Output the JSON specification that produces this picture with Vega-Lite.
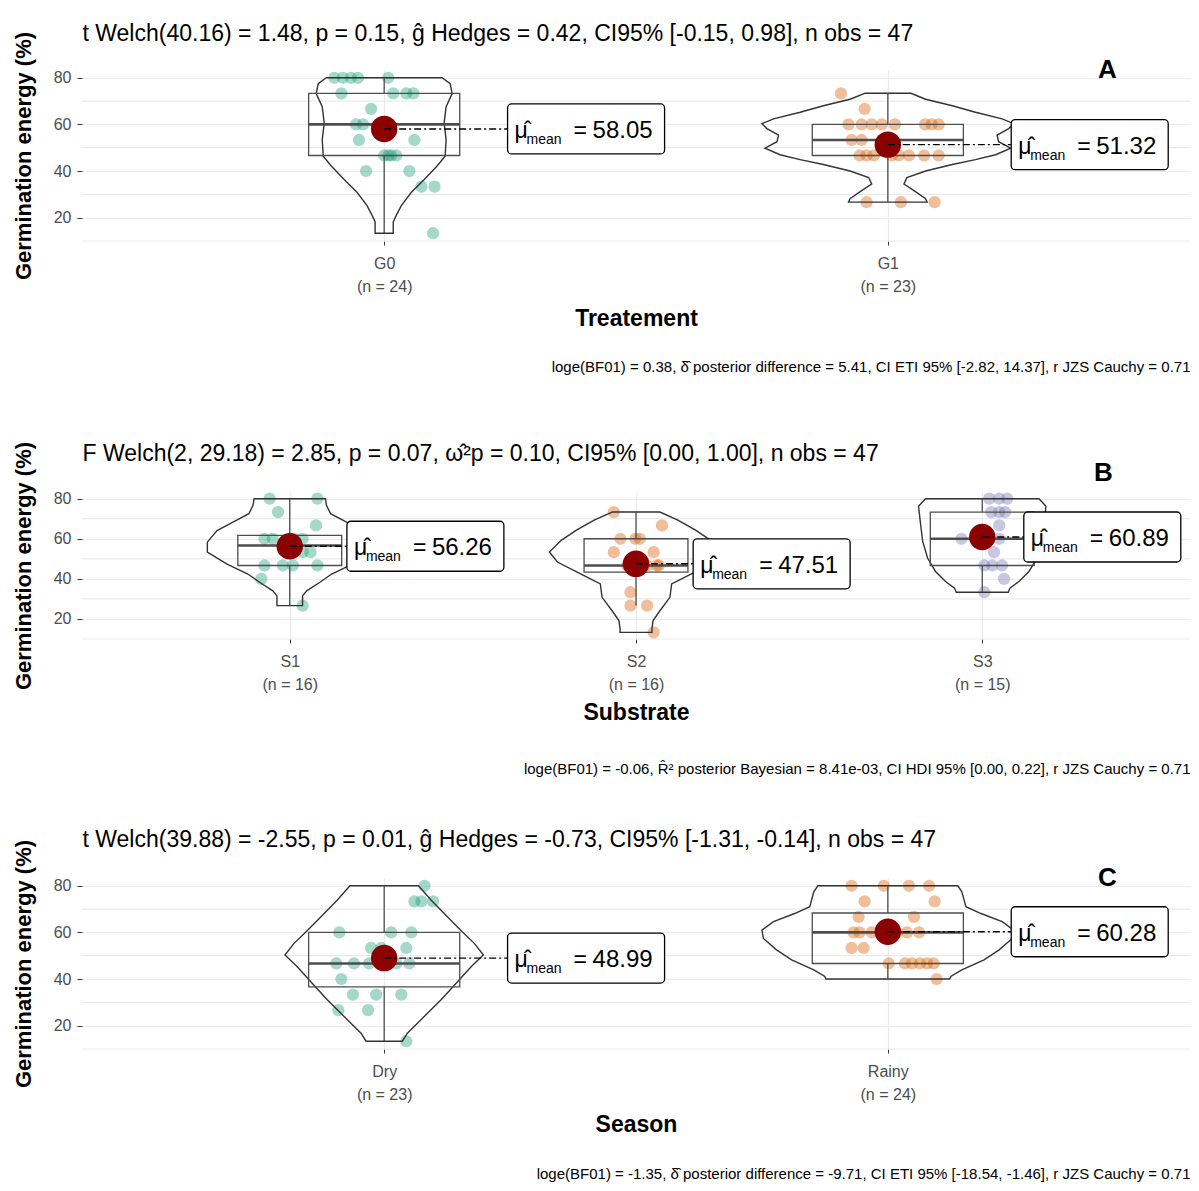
{
  "$schema": "https://vega.github.io/schema/vega-lite/v6.json",
  "background": "white",
  "padding": {"left": 12, "top": 22, "right": 2, "bottom": 2},
  "spacing": 67,
  "config": {
    "font": "Liberation Sans",
    "view": {"stroke": null},
    "axis": {"grid": false, "domain": false, "labelFont": "Liberation Sans", "titleFont": "Liberation Sans"},
    "text": {"font": "Liberation Sans"}
  },
  "datasets": {
    "minor": [{"g": 10}, {"g": 30}, {"g": 50}, {"g": 70}],
    "pts": [
      {"panel":"A","grp":"G0","xj":0.901,"v":80},{"panel":"A","grp":"G0","xj":0.918,"v":80},{"panel":"A","grp":"G0","xj":0.934,"v":80},{"panel":"A","grp":"G0","xj":0.948,"v":80},{"panel":"A","grp":"G0","xj":1.008,"v":80},
      {"panel":"A","grp":"G0","xj":0.915,"v":73.33},{"panel":"A","grp":"G0","xj":1.018,"v":73.33},{"panel":"A","grp":"G0","xj":1.044,"v":73.33},{"panel":"A","grp":"G0","xj":1.058,"v":73.33},
      {"panel":"A","grp":"G0","xj":0.974,"v":66.67},
      {"panel":"A","grp":"G0","xj":0.944,"v":60},{"panel":"A","grp":"G0","xj":0.958,"v":60},{"panel":"A","grp":"G0","xj":0.994,"v":60},
      {"panel":"A","grp":"G0","xj":0.950,"v":53.33},{"panel":"A","grp":"G0","xj":1.060,"v":53.33},
      {"panel":"A","grp":"G0","xj":1.000,"v":46.67},{"panel":"A","grp":"G0","xj":1.014,"v":46.67},{"panel":"A","grp":"G0","xj":1.024,"v":46.67},{"panel":"A","grp":"G0","xj":1.008,"v":46.67},
      {"panel":"A","grp":"G0","xj":0.964,"v":40},{"panel":"A","grp":"G0","xj":1.050,"v":40},
      {"panel":"A","grp":"G0","xj":1.074,"v":33.33},{"panel":"A","grp":"G0","xj":1.100,"v":33.33},
      {"panel":"A","grp":"G0","xj":1.097,"v":13.33},
      {"panel":"A","grp":"G1","xj":1.907,"v":73.33},
      {"panel":"A","grp":"G1","xj":1.954,"v":66.67},
      {"panel":"A","grp":"G1","xj":1.922,"v":60},{"panel":"A","grp":"G1","xj":1.948,"v":60},{"panel":"A","grp":"G1","xj":1.968,"v":60},{"panel":"A","grp":"G1","xj":1.988,"v":60},{"panel":"A","grp":"G1","xj":2.014,"v":60},{"panel":"A","grp":"G1","xj":2.074,"v":60},{"panel":"A","grp":"G1","xj":2.087,"v":60},{"panel":"A","grp":"G1","xj":2.101,"v":60},
      {"panel":"A","grp":"G1","xj":1.928,"v":53.33},{"panel":"A","grp":"G1","xj":1.948,"v":53.33},
      {"panel":"A","grp":"G1","xj":1.944,"v":46.67},{"panel":"A","grp":"G1","xj":1.958,"v":46.67},{"panel":"A","grp":"G1","xj":2.022,"v":46.67},{"panel":"A","grp":"G1","xj":2.042,"v":46.67},{"panel":"A","grp":"G1","xj":2.072,"v":46.67},{"panel":"A","grp":"G1","xj":2.101,"v":46.67},{"panel":"A","grp":"G1","xj":1.972,"v":46.67},{"panel":"A","grp":"G1","xj":2.008,"v":46.67},
      {"panel":"A","grp":"G1","xj":1.958,"v":26.67},{"panel":"A","grp":"G1","xj":2.026,"v":26.67},{"panel":"A","grp":"G1","xj":2.093,"v":26.67},

      {"panel":"B","grp":"S1","xj":0.942,"v":80},{"panel":"B","grp":"S1","xj":1.080,"v":80},
      {"panel":"B","grp":"S1","xj":0.966,"v":73.33},
      {"panel":"B","grp":"S1","xj":1.076,"v":66.67},
      {"panel":"B","grp":"S1","xj":0.927,"v":60},{"panel":"B","grp":"S1","xj":0.951,"v":60},{"panel":"B","grp":"S1","xj":1.014,"v":60},{"panel":"B","grp":"S1","xj":1.037,"v":60},
      {"panel":"B","grp":"S1","xj":1.037,"v":53.33},{"panel":"B","grp":"S1","xj":1.060,"v":53.33},
      {"panel":"B","grp":"S1","xj":0.927,"v":46.67},{"panel":"B","grp":"S1","xj":0.980,"v":46.67},{"panel":"B","grp":"S1","xj":1.009,"v":46.67},{"panel":"B","grp":"S1","xj":1.080,"v":46.67},
      {"panel":"B","grp":"S1","xj":0.918,"v":40},
      {"panel":"B","grp":"S1","xj":1.037,"v":26.67},
      {"panel":"B","grp":"S2","xj":1.936,"v":73.33},
      {"panel":"B","grp":"S2","xj":2.075,"v":66.67},
      {"panel":"B","grp":"S2","xj":1.955,"v":60},{"panel":"B","grp":"S2","xj":1.998,"v":60},{"panel":"B","grp":"S2","xj":2.011,"v":60},
      {"panel":"B","grp":"S2","xj":1.936,"v":53.33},{"panel":"B","grp":"S2","xj":2.051,"v":53.33},
      {"panel":"B","grp":"S2","xj":2.060,"v":46.67},{"panel":"B","grp":"S2","xj":2.066,"v":46.67},{"panel":"B","grp":"S2","xj":1.974,"v":46.67},{"panel":"B","grp":"S2","xj":2.017,"v":46.67},{"panel":"B","grp":"S2","xj":2.032,"v":46.67},
      {"panel":"B","grp":"S2","xj":1.984,"v":33.33},
      {"panel":"B","grp":"S2","xj":1.984,"v":26.67},{"panel":"B","grp":"S2","xj":2.032,"v":26.67},
      {"panel":"B","grp":"S2","xj":2.051,"v":13.33},
      {"panel":"B","grp":"S3","xj":3.020,"v":80},{"panel":"B","grp":"S3","xj":3.049,"v":80},{"panel":"B","grp":"S3","xj":3.072,"v":80},
      {"panel":"B","grp":"S3","xj":3.026,"v":73.33},{"panel":"B","grp":"S3","xj":3.066,"v":73.33},{"panel":"B","grp":"S3","xj":3.049,"v":73.33},
      {"panel":"B","grp":"S3","xj":3.049,"v":66.67},
      {"panel":"B","grp":"S3","xj":2.940,"v":60},{"panel":"B","grp":"S3","xj":3.049,"v":60},
      {"panel":"B","grp":"S3","xj":3.034,"v":53.33},
      {"panel":"B","grp":"S3","xj":3.006,"v":46.67},{"panel":"B","grp":"S3","xj":3.029,"v":46.67},{"panel":"B","grp":"S3","xj":3.057,"v":46.67},
      {"panel":"B","grp":"S3","xj":3.063,"v":40},
      {"panel":"B","grp":"S3","xj":3.006,"v":33.33},

      {"panel":"C","grp":"Dry","xj":1.080,"v":80},
      {"panel":"C","grp":"Dry","xj":1.060,"v":73.33},{"panel":"C","grp":"Dry","xj":1.074,"v":73.33},{"panel":"C","grp":"Dry","xj":1.097,"v":73.33},
      {"panel":"C","grp":"Dry","xj":0.911,"v":60},{"panel":"C","grp":"Dry","xj":1.014,"v":60},{"panel":"C","grp":"Dry","xj":1.054,"v":60},
      {"panel":"C","grp":"Dry","xj":0.974,"v":53.33},{"panel":"C","grp":"Dry","xj":1.044,"v":53.33},{"panel":"C","grp":"Dry","xj":0.994,"v":53.33},
      {"panel":"C","grp":"Dry","xj":0.905,"v":46.67},{"panel":"C","grp":"Dry","xj":0.940,"v":46.67},{"panel":"C","grp":"Dry","xj":0.970,"v":46.67},{"panel":"C","grp":"Dry","xj":1.050,"v":46.67},{"panel":"C","grp":"Dry","xj":1.004,"v":46.67},{"panel":"C","grp":"Dry","xj":1.024,"v":46.67},
      {"panel":"C","grp":"Dry","xj":0.915,"v":40},
      {"panel":"C","grp":"Dry","xj":0.938,"v":33.33},{"panel":"C","grp":"Dry","xj":1.034,"v":33.33},{"panel":"C","grp":"Dry","xj":0.984,"v":33.33},
      {"panel":"C","grp":"Dry","xj":0.909,"v":26.67},{"panel":"C","grp":"Dry","xj":0.968,"v":26.67},
      {"panel":"C","grp":"Dry","xj":1.044,"v":13.33},
      {"panel":"C","grp":"Rainy","xj":1.928,"v":80},{"panel":"C","grp":"Rainy","xj":1.992,"v":80},{"panel":"C","grp":"Rainy","xj":2.042,"v":80},{"panel":"C","grp":"Rainy","xj":2.082,"v":80},
      {"panel":"C","grp":"Rainy","xj":1.954,"v":73.33},{"panel":"C","grp":"Rainy","xj":2.093,"v":73.33},
      {"panel":"C","grp":"Rainy","xj":1.942,"v":66.67},{"panel":"C","grp":"Rainy","xj":2.052,"v":66.67},
      {"panel":"C","grp":"Rainy","xj":1.932,"v":60},{"panel":"C","grp":"Rainy","xj":1.944,"v":60},{"panel":"C","grp":"Rainy","xj":2.062,"v":60},{"panel":"C","grp":"Rainy","xj":1.968,"v":60},{"panel":"C","grp":"Rainy","xj":1.988,"v":60},{"panel":"C","grp":"Rainy","xj":2.018,"v":60},{"panel":"C","grp":"Rainy","xj":2.038,"v":60},
      {"panel":"C","grp":"Rainy","xj":1.928,"v":53.33},{"panel":"C","grp":"Rainy","xj":1.952,"v":53.33},
      {"panel":"C","grp":"Rainy","xj":2.002,"v":46.67},{"panel":"C","grp":"Rainy","xj":2.034,"v":46.67},{"panel":"C","grp":"Rainy","xj":2.048,"v":46.67},{"panel":"C","grp":"Rainy","xj":2.064,"v":46.67},{"panel":"C","grp":"Rainy","xj":2.078,"v":46.67},{"panel":"C","grp":"Rainy","xj":2.091,"v":46.67},
      {"panel":"C","grp":"Rainy","xj":2.097,"v":40}
    ],
    "box": [
      {"panel":"A","grp":"G0","pos":1,"lo":13.33,"q1":46.67,"med":60,"q3":73.33,"hi":80,"mean":58.05},
      {"panel":"A","grp":"G1","pos":2,"lo":26.67,"q1":46.67,"med":53.33,"q3":60,"hi":73.33,"mean":51.32},
      {"panel":"B","grp":"S1","pos":1,"lo":26.67,"q1":46.67,"med":56.67,"q3":61.67,"hi":80,"mean":56.26},
      {"panel":"B","grp":"S2","pos":2,"lo":26.67,"q1":43.33,"med":46.67,"q3":60,"hi":73.33,"mean":47.51},
      {"panel":"B","grp":"S3","pos":3,"lo":33.33,"q1":46.67,"med":60,"q3":73.33,"hi":80,"mean":60.89},
      {"panel":"C","grp":"Dry","pos":1,"lo":13.33,"q1":36.67,"med":46.67,"q3":60,"hi":80,"mean":48.99},
      {"panel":"C","grp":"Rainy","pos":2,"lo":40,"q1":46.67,"med":60,"q3":68.33,"hi":80,"mean":60.28}
    ],
    "vio": [
      {"panel":"A","grp":"G0","pos":1,"y":80,"w":0.115},{"panel":"A","grp":"G0","pos":1,"y":77.5,"w":0.131},{"panel":"A","grp":"G0","pos":1,"y":73.2,"w":0.135},{"panel":"A","grp":"G0","pos":1,"y":67.6,"w":0.123},{"panel":"A","grp":"G0","pos":1,"y":60.5,"w":0.119},{"panel":"A","grp":"G0","pos":1,"y":53.5,"w":0.123},{"panel":"A","grp":"G0","pos":1,"y":46.4,"w":0.121},{"panel":"A","grp":"G0","pos":1,"y":42.2,"w":0.105},{"panel":"A","grp":"G0","pos":1,"y":36.5,"w":0.080},{"panel":"A","grp":"G0","pos":1,"y":30.9,"w":0.054},{"panel":"A","grp":"G0","pos":1,"y":25.2,"w":0.034},{"panel":"A","grp":"G0","pos":1,"y":21.0,"w":0.024},{"panel":"A","grp":"G0","pos":1,"y":18.2,"w":0.018},{"panel":"A","grp":"G0","pos":1,"y":13.33,"w":0.018},
      {"panel":"A","grp":"G1","pos":2,"y":73.33,"w":0.046},{"panel":"A","grp":"G1","pos":2,"y":70.8,"w":0.075},{"panel":"A","grp":"G1","pos":2,"y":68.0,"w":0.128},{"panel":"A","grp":"G1","pos":2,"y":65.2,"w":0.174},{"panel":"A","grp":"G1","pos":2,"y":62.4,"w":0.227},{"panel":"A","grp":"G1","pos":2,"y":60.3,"w":0.25},{"panel":"A","grp":"G1","pos":2,"y":58.2,"w":0.24},{"panel":"A","grp":"G1","pos":2,"y":55.4,"w":0.217},{"panel":"A","grp":"G1","pos":2,"y":52.6,"w":0.22},{"panel":"A","grp":"G1","pos":2,"y":49.8,"w":0.244},{"panel":"A","grp":"G1","pos":2,"y":47.0,"w":0.214},{"panel":"A","grp":"G1","pos":2,"y":44.9,"w":0.174},{"panel":"A","grp":"G1","pos":2,"y":42.8,"w":0.128},{"panel":"A","grp":"G1","pos":2,"y":40.0,"w":0.075},{"panel":"A","grp":"G1","pos":2,"y":37.2,"w":0.038},{"panel":"A","grp":"G1","pos":2,"y":34.4,"w":0.032},{"panel":"A","grp":"G1","pos":2,"y":31.6,"w":0.052},{"panel":"A","grp":"G1","pos":2,"y":28.1,"w":0.075},{"panel":"A","grp":"G1","pos":2,"y":26.67,"w":0.078},
      {"panel":"B","grp":"S1","pos":1,"y":80,"w":0.103},{"panel":"B","grp":"S1","pos":1,"y":76.7,"w":0.106},{"panel":"B","grp":"S1","pos":1,"y":72.5,"w":0.118},{"panel":"B","grp":"S1","pos":1,"y":68.3,"w":0.164},{"panel":"B","grp":"S1","pos":1,"y":64.1,"w":0.21},{"panel":"B","grp":"S1","pos":1,"y":58.3,"w":0.238},{"panel":"B","grp":"S1","pos":1,"y":53.3,"w":0.238},{"panel":"B","grp":"S1","pos":1,"y":47.4,"w":0.181},{"panel":"B","grp":"S1","pos":1,"y":42.4,"w":0.121},{"panel":"B","grp":"S1","pos":1,"y":38.2,"w":0.086},{"panel":"B","grp":"S1","pos":1,"y":34.0,"w":0.049},{"panel":"B","grp":"S1","pos":1,"y":31.5,"w":0.037},{"panel":"B","grp":"S1","pos":1,"y":26.67,"w":0.037},
      {"panel":"B","grp":"S2","pos":2,"y":73.33,"w":0.069},{"panel":"B","grp":"S2","pos":2,"y":69.3,"w":0.121},{"panel":"B","grp":"S2","pos":2,"y":64.3,"w":0.172},{"panel":"B","grp":"S2","pos":2,"y":59.2,"w":0.216},{"panel":"B","grp":"S2","pos":2,"y":53.4,"w":0.25},{"panel":"B","grp":"S2","pos":2,"y":48.4,"w":0.227},{"panel":"B","grp":"S2","pos":2,"y":43.4,"w":0.17},{"panel":"B","grp":"S2","pos":2,"y":37.5,"w":0.103},{"panel":"B","grp":"S2","pos":2,"y":30.8,"w":0.098},{"panel":"B","grp":"S2","pos":2,"y":24.1,"w":0.069},{"panel":"B","grp":"S2","pos":2,"y":19.1,"w":0.049},{"panel":"B","grp":"S2","pos":2,"y":14.9,"w":0.046},{"panel":"B","grp":"S2","pos":2,"y":13.33,"w":0.046},
      {"panel":"B","grp":"S3","pos":3,"y":80,"w":0.164},{"panel":"B","grp":"S3","pos":3,"y":76.2,"w":0.184},{"panel":"B","grp":"S3","pos":3,"y":67.1,"w":0.178},{"panel":"B","grp":"S3","pos":3,"y":58.7,"w":0.172},{"panel":"B","grp":"S3","pos":3,"y":50.4,"w":0.158},{"panel":"B","grp":"S3","pos":3,"y":43.7,"w":0.135},{"panel":"B","grp":"S3","pos":3,"y":38.7,"w":0.106},{"panel":"B","grp":"S3","pos":3,"y":35.4,"w":0.08},{"panel":"B","grp":"S3","pos":3,"y":33.33,"w":0.075},
      {"panel":"C","grp":"Dry","pos":1,"y":80,"w":0.068},{"panel":"C","grp":"Dry","pos":1,"y":73.9,"w":0.093},{"panel":"C","grp":"Dry","pos":1,"y":66.8,"w":0.125},{"panel":"C","grp":"Dry","pos":1,"y":60.3,"w":0.155},{"panel":"C","grp":"Dry","pos":1,"y":55.3,"w":0.179},{"panel":"C","grp":"Dry","pos":1,"y":50.3,"w":0.197},{"panel":"C","grp":"Dry","pos":1,"y":45.4,"w":0.173},{"panel":"C","grp":"Dry","pos":1,"y":38.2,"w":0.143},{"panel":"C","grp":"Dry","pos":1,"y":31.1,"w":0.113},{"panel":"C","grp":"Dry","pos":1,"y":24.0,"w":0.080},{"panel":"C","grp":"Dry","pos":1,"y":16.8,"w":0.046},{"panel":"C","grp":"Dry","pos":1,"y":13.33,"w":0.036},
      {"panel":"C","grp":"Rainy","pos":2,"y":80,"w":0.139},{"panel":"C","grp":"Rainy","pos":2,"y":77.4,"w":0.147},{"panel":"C","grp":"Rainy","pos":2,"y":71.0,"w":0.155},{"panel":"C","grp":"Rainy","pos":2,"y":68.1,"w":0.185},{"panel":"C","grp":"Rainy","pos":2,"y":64.6,"w":0.227},{"panel":"C","grp":"Rainy","pos":2,"y":61.0,"w":0.25},{"panel":"C","grp":"Rainy","pos":2,"y":57.4,"w":0.247},{"panel":"C","grp":"Rainy","pos":2,"y":52.5,"w":0.221},{"panel":"C","grp":"Rainy","pos":2,"y":48.2,"w":0.191},{"panel":"C","grp":"Rainy","pos":2,"y":43.9,"w":0.147},{"panel":"C","grp":"Rainy","pos":2,"y":41.1,"w":0.125},{"panel":"C","grp":"Rainy","pos":2,"y":40,"w":0.123}
    ]
  },
  "vconcat": [
    {
      "width": 1108, "height": 171,
      "resolve": {"axis": {"x": "independent"}},
      "layer": [
        {
          "data": {"name": "minor"},
          "mark": {"type": "rule", "stroke": "#EBEBEB", "strokeWidth": 1.2},
          "encoding": {
            "y": {"field": "g", "type": "quantitative", "scale": {"domain": [10, 83.33], "nice": false, "zero": false},
                  "axis": {"orient": "left", "values": [20, 40, 60, 80], "grid": true, "gridColor": "#EBEBEB", "gridWidth": 1.2, "ticks": true, "tickSize": 5, "tickColor": "#333333", "domain": false, "labelFontSize": 16, "labelColor": "#4D4D4D", "labelPadding": 6, "title": "Germination energy (%)", "titleFontSize": 22, "titleFontWeight": "bold", "titleColor": "black", "titlePadding": 18}}
          }
        },
        {
          "data": {"name": "pts"},
          "transform": [{"filter": "datum.panel == 'A'"}],
          "mark": {"type": "circle", "size": 150, "opacity": 0.4},
          "encoding": {
            "x": {"field": "xj", "type": "quantitative", "scale": {"domain": [0.4, 2.6], "nice": false, "zero": false},
                  "axis": {"orient": "bottom", "offset": 118, "labels": false, "ticks": false, "domain": false, "grid": false, "title": "loge(BF01) = 0.38, δ̂ posterior difference = 5.41, CI ETI 95% [-2.82, 14.37], r JZS Cauchy = 0.71", "titleAnchor": "end", "titleFontSize": 15, "titleFontWeight": "normal", "titleColor": "black", "titlePadding": 0, "titleLimit": 3000}},
            "y": {"field": "v", "type": "quantitative", "scale": {"domain": [10, 83.33], "nice": false, "zero": false}},
            "color": {"field": "grp", "type": "nominal", "scale": {"domain": ["G0","G1","S1","S2","S3","Dry","Rainy"], "range": ["#1B9E77","#D95F02","#1B9E77","#D95F02","#7570B3","#1B9E77","#D95F02"]}, "legend": null}
          }
        },
        {
          "data": {"name": "vio"},
          "transform": [{"filter": "datum.panel == 'A'"}, {"calculate": "datum.pos - datum.w", "as": "xl"}, {"calculate": "datum.pos + datum.w", "as": "xr"}],
          "mark": {"type": "area", "orient": "horizontal", "fill": "white", "fillOpacity": 0, "stroke": "#333333", "strokeWidth": 1.4},
          "encoding": {
            "y": {"field": "y", "type": "quantitative", "scale": {"domain": [10, 83.33], "nice": false, "zero": false}},
            "x": {"field": "xl", "type": "quantitative", "stack": null, "scale": {"domain": [0.4, 2.6], "nice": false, "zero": false},
                  "axis": {"orient": "bottom", "values": [1, 2], "labelExpr": "datum.value == 1 ? ['G0', '(n = 24)'] : ['G1', '(n = 23)']", "grid": true, "gridColor": "#EBEBEB", "gridWidth": 1.2, "ticks": true, "tickSize": 4, "tickColor": "#333333", "domain": false, "labelFontSize": 16, "labelColor": "#4D4D4D", "labelLineHeight": 23, "labelPadding": 10, "labelFlush": false, "labelOverlap": false, "title": "Treatement", "titleFontSize": 23, "titleFontWeight": "bold", "titleColor": "black", "titlePadding": 13}},
            "x2": {"field": "xr"},
            "detail": {"field": "grp"}
          }
        },
        {
          "data": {"name": "box"},
          "transform": [{"filter": "datum.panel == 'A'"}, {"calculate": "datum.pos - 0.15", "as": "b1"}, {"calculate": "datum.pos + 0.15", "as": "b2"}],
          "mark": {"type": "rect", "fill": "white", "fillOpacity": 0, "stroke": "#4D4D4D", "strokeWidth": 1.3},
          "encoding": {
            "x": {"field": "b1", "type": "quantitative", "scale": {"domain": [0.4, 2.6], "nice": false, "zero": false}, "axis": null},
            "x2": {"field": "b2"},
            "y": {"field": "q1", "type": "quantitative", "scale": {"domain": [10, 83.33], "nice": false, "zero": false}},
            "y2": {"field": "q3"}
          }
        },
        {
          "data": {"name": "box"},
          "transform": [{"filter": "datum.panel == 'A'"}],
          "mark": {"type": "rule", "stroke": "#4D4D4D", "strokeWidth": 1.3},
          "encoding": {
            "x": {"field": "pos", "type": "quantitative", "scale": {"domain": [0.4, 2.6], "nice": false, "zero": false}, "axis": null},
            "y": {"field": "lo", "type": "quantitative", "scale": {"domain": [10, 83.33], "nice": false, "zero": false}},
            "y2": {"field": "q1"}
          }
        },
        {
          "data": {"name": "box"},
          "transform": [{"filter": "datum.panel == 'A'"}],
          "mark": {"type": "rule", "stroke": "#4D4D4D", "strokeWidth": 1.3},
          "encoding": {
            "x": {"field": "pos", "type": "quantitative", "scale": {"domain": [0.4, 2.6], "nice": false, "zero": false}, "axis": null},
            "y": {"field": "q3", "type": "quantitative", "scale": {"domain": [10, 83.33], "nice": false, "zero": false}},
            "y2": {"field": "hi"}
          }
        },
        {
          "data": {"name": "box"},
          "transform": [{"filter": "datum.panel == 'A'"}, {"calculate": "datum.pos - 0.15", "as": "b1"}, {"calculate": "datum.pos + 0.15", "as": "b2"}],
          "mark": {"type": "rule", "stroke": "#4D4D4D", "strokeWidth": 2.6},
          "encoding": {
            "x": {"field": "b1", "type": "quantitative", "scale": {"domain": [0.4, 2.6], "nice": false, "zero": false}, "axis": null},
            "x2": {"field": "b2"},
            "y": {"field": "med", "type": "quantitative", "scale": {"domain": [10, 83.33], "nice": false, "zero": false}}
          }
        },
        {
          "data": {"name": "box"},
          "transform": [{"filter": "datum.panel == 'A'"}],
          "mark": {"type": "circle", "size": 700, "color": "#8B0000", "opacity": 1},
          "encoding": {
            "x": {"field": "pos", "type": "quantitative", "scale": {"domain": [0.4, 2.6], "nice": false, "zero": false},
                  "axis": {"orient": "top", "labels": false, "ticks": false, "domain": false, "grid": false, "title": "t Welch(40.16) = 1.48, p = 0.15, ĝ Hedges = 0.42, CI95% [-0.15, 0.98], n obs = 47", "titleAnchor": "start", "titleFontSize": 23, "titleFontWeight": "normal", "titleColor": "black", "titlePadding": 25, "titleLimit": 3000}},
            "y": {"field": "mean", "type": "quantitative", "scale": {"domain": [10, 83.33], "nice": false, "zero": false}}
          }
        },
        {
          "data": {"name": "box"},
          "transform": [{"filter": "datum.panel == 'A'"}, {"calculate": "datum.pos + 0.245", "as": "lx"}],
          "mark": {"type": "rule", "stroke": "black", "strokeWidth": 1.4, "strokeDash": [7, 3, 2, 3]},
          "encoding": {
            "x": {"field": "pos", "type": "quantitative", "scale": {"domain": [0.4, 2.6], "nice": false, "zero": false}, "axis": null},
            "x2": {"field": "lx"},
            "y": {"field": "mean", "type": "quantitative", "scale": {"domain": [10, 83.33], "nice": false, "zero": false}}
          }
        },
        {
          "data": {"name": "box"},
          "transform": [{"filter": "datum.panel == 'A'"}, {"calculate": "datum.pos + 0.245", "as": "lx"}],
          "layer": [
            {"mark": {"type": "rect", "fill": "white", "stroke": "black", "strokeWidth": 1.3, "cornerRadius": 4, "x2Offset": 157, "yOffset": -25, "y2Offset": 25},
             "encoding": {"x2": {"field": "lx"}, "y2": {"field": "mean"}}},
            {"mark": {"type": "text", "align": "left", "baseline": "alphabetic", "dx": 7, "dy": 9, "fontSize": 23, "color": "black", "text": "μ̂"}},
            {"mark": {"type": "text", "align": "left", "baseline": "alphabetic", "dx": 19, "dy": 15, "fontSize": 14, "color": "black", "text": "mean"}},
            {"mark": {"type": "text", "align": "left", "baseline": "alphabetic", "dx": 66, "dy": 9, "fontSize": 23, "color": "black", "text": "="}},
            {"mark": {"type": "text", "align": "left", "baseline": "alphabetic", "dx": 85, "dy": 9, "fontSize": 24, "color": "black"},
             "encoding": {"text": {"field": "mean", "type": "quantitative", "format": ".2f"}}}
          ],
          "encoding": {
            "x": {"field": "lx", "type": "quantitative", "scale": {"domain": [0.4, 2.6], "nice": false, "zero": false}, "axis": null},
            "y": {"field": "mean", "type": "quantitative", "scale": {"domain": [10, 83.33], "nice": false, "zero": false}}
          }
        },
        {
          "data": {"values": [{"tag": "A"}]},
          "mark": {"type": "text", "fontSize": 26, "fontWeight": "bold", "color": "black", "baseline": "middle", "align": "center"},
          "encoding": {
            "x": {"datum": 2.436, "type": "quantitative", "scale": {"domain": [0.4, 2.6], "nice": false, "zero": false}, "axis": null},
            "y": {"datum": 83.33, "type": "quantitative", "scale": {"domain": [10, 83.33], "nice": false, "zero": false}},
            "text": {"field": "tag"}
          }
        }
      ]
    },
    {
      "spacing": 52,
      "vconcat": [
        {
          "width": 1108, "height": 147,
          "resolve": {"axis": {"x": "independent"}},
          "layer": [
            {
              "data": {"name": "minor"},
              "mark": {"type": "rule", "stroke": "#EBEBEB", "strokeWidth": 1.2},
              "encoding": {
                "y": {"field": "g", "type": "quantitative", "scale": {"domain": [10, 83.33], "nice": false, "zero": false},
                      "axis": {"orient": "left", "values": [20, 40, 60, 80], "grid": true, "gridColor": "#EBEBEB", "gridWidth": 1.2, "ticks": true, "tickSize": 5, "tickColor": "#333333", "domain": false, "labelFontSize": 16, "labelColor": "#4D4D4D", "labelPadding": 6, "title": "Germination energy (%)", "titleFontSize": 22, "titleFontWeight": "bold", "titleColor": "black", "titlePadding": 18}}
              }
            },
            {
              "data": {"name": "pts"},
              "transform": [{"filter": "datum.panel == 'B'"}],
              "mark": {"type": "circle", "size": 150, "opacity": 0.4},
              "encoding": {
                "x": {"field": "xj", "type": "quantitative", "scale": {"domain": [0.4, 3.6], "nice": false, "zero": false},
                      "axis": {"orient": "bottom", "offset": 122, "labels": false, "ticks": false, "domain": false, "grid": false, "title": "loge(BF01) = -0.06, R̂² posterior Bayesian = 8.41e-03, CI HDI 95% [0.00, 0.22], r JZS Cauchy = 0.71", "titleAnchor": "end", "titleFontSize": 15, "titleFontWeight": "normal", "titleColor": "black", "titlePadding": 0, "titleLimit": 3000}},
                "y": {"field": "v", "type": "quantitative", "scale": {"domain": [10, 83.33], "nice": false, "zero": false}},
                "color": {"field": "grp", "type": "nominal", "scale": {"domain": ["G0","G1","S1","S2","S3","Dry","Rainy"], "range": ["#1B9E77","#D95F02","#1B9E77","#D95F02","#7570B3","#1B9E77","#D95F02"]}, "legend": null}
              }
            },
            {
              "data": {"name": "vio"},
              "transform": [{"filter": "datum.panel == 'B'"}, {"calculate": "datum.pos - datum.w", "as": "xl"}, {"calculate": "datum.pos + datum.w", "as": "xr"}],
              "mark": {"type": "area", "orient": "horizontal", "fill": "white", "fillOpacity": 0, "stroke": "#333333", "strokeWidth": 1.4},
              "encoding": {
                "y": {"field": "y", "type": "quantitative", "scale": {"domain": [10, 83.33], "nice": false, "zero": false}},
                "x": {"field": "xl", "type": "quantitative", "stack": null, "scale": {"domain": [0.4, 3.6], "nice": false, "zero": false},
                      "axis": {"orient": "bottom", "values": [1, 2, 3], "labelExpr": "datum.value == 1 ? ['S1', '(n = 16)'] : datum.value == 2 ? ['S2', '(n = 16)'] : ['S3', '(n = 15)']", "grid": true, "gridColor": "#EBEBEB", "gridWidth": 1.2, "ticks": true, "tickSize": 4, "tickColor": "#333333", "domain": false, "labelFontSize": 16, "labelColor": "#4D4D4D", "labelLineHeight": 23, "labelPadding": 10, "labelFlush": false, "labelOverlap": false, "title": "Substrate", "titleFontSize": 23, "titleFontWeight": "bold", "titleColor": "black", "titlePadding": 9}},
                "x2": {"field": "xr"},
                "detail": {"field": "grp"}
              }
            },
            {
              "data": {"name": "box"},
              "transform": [{"filter": "datum.panel == 'B'"}, {"calculate": "datum.pos - 0.15", "as": "b1"}, {"calculate": "datum.pos + 0.15", "as": "b2"}],
              "mark": {"type": "rect", "fill": "white", "fillOpacity": 0, "stroke": "#4D4D4D", "strokeWidth": 1.3},
              "encoding": {
                "x": {"field": "b1", "type": "quantitative", "scale": {"domain": [0.4, 3.6], "nice": false, "zero": false}, "axis": null},
                "x2": {"field": "b2"},
                "y": {"field": "q1", "type": "quantitative", "scale": {"domain": [10, 83.33], "nice": false, "zero": false}},
                "y2": {"field": "q3"}
              }
            },
            {
              "data": {"name": "box"},
              "transform": [{"filter": "datum.panel == 'B'"}],
              "mark": {"type": "rule", "stroke": "#4D4D4D", "strokeWidth": 1.3},
              "encoding": {
                "x": {"field": "pos", "type": "quantitative", "scale": {"domain": [0.4, 3.6], "nice": false, "zero": false}, "axis": null},
                "y": {"field": "lo", "type": "quantitative", "scale": {"domain": [10, 83.33], "nice": false, "zero": false}},
                "y2": {"field": "q1"}
              }
            },
            {
              "data": {"name": "box"},
              "transform": [{"filter": "datum.panel == 'B'"}],
              "mark": {"type": "rule", "stroke": "#4D4D4D", "strokeWidth": 1.3},
              "encoding": {
                "x": {"field": "pos", "type": "quantitative", "scale": {"domain": [0.4, 3.6], "nice": false, "zero": false}, "axis": null},
                "y": {"field": "q3", "type": "quantitative", "scale": {"domain": [10, 83.33], "nice": false, "zero": false}},
                "y2": {"field": "hi"}
              }
            },
            {
              "data": {"name": "box"},
              "transform": [{"filter": "datum.panel == 'B'"}, {"calculate": "datum.pos - 0.15", "as": "b1"}, {"calculate": "datum.pos + 0.15", "as": "b2"}],
              "mark": {"type": "rule", "stroke": "#4D4D4D", "strokeWidth": 2.6},
              "encoding": {
                "x": {"field": "b1", "type": "quantitative", "scale": {"domain": [0.4, 3.6], "nice": false, "zero": false}, "axis": null},
                "x2": {"field": "b2"},
                "y": {"field": "med", "type": "quantitative", "scale": {"domain": [10, 83.33], "nice": false, "zero": false}}
              }
            },
            {
              "data": {"name": "box"},
              "transform": [{"filter": "datum.panel == 'B'"}],
              "mark": {"type": "circle", "size": 700, "color": "#8B0000", "opacity": 1},
              "encoding": {
                "x": {"field": "pos", "type": "quantitative", "scale": {"domain": [0.4, 3.6], "nice": false, "zero": false},
                      "axis": {"orient": "top", "labels": false, "ticks": false, "domain": false, "grid": false, "title": "F Welch(2, 29.18) = 2.85, p = 0.07, ω̂²p = 0.10, CI95% [0.00, 1.00], n obs = 47", "titleAnchor": "start", "titleFontSize": 23, "titleFontWeight": "normal", "titleColor": "black", "titlePadding": 27, "titleLimit": 3000}},
                "y": {"field": "mean", "type": "quantitative", "scale": {"domain": [10, 83.33], "nice": false, "zero": false}}
              }
            },
            {
              "data": {"name": "box"},
              "transform": [{"filter": "datum.panel == 'B'"}, {"calculate": "min(datum.pos + 0.165, 3.12)", "as": "lx"}],
              "mark": {"type": "rule", "stroke": "black", "strokeWidth": 1.4, "strokeDash": [7, 3, 2, 3]},
              "encoding": {
                "x": {"field": "pos", "type": "quantitative", "scale": {"domain": [0.4, 3.6], "nice": false, "zero": false}, "axis": null},
                "x2": {"field": "lx"},
                "y": {"field": "mean", "type": "quantitative", "scale": {"domain": [10, 83.33], "nice": false, "zero": false}}
              }
            },
            {
              "data": {"name": "box"},
              "transform": [{"filter": "datum.panel == 'B'"}, {"calculate": "min(datum.pos + 0.165, 3.12)", "as": "lx"}],
              "layer": [
                {"mark": {"type": "rect", "fill": "white", "stroke": "black", "strokeWidth": 1.3, "cornerRadius": 4, "x2Offset": 157, "yOffset": -25, "y2Offset": 25},
                 "encoding": {"x2": {"field": "lx"}, "y2": {"field": "mean"}}},
                {"mark": {"type": "text", "align": "left", "baseline": "alphabetic", "dx": 7, "dy": 9, "fontSize": 23, "color": "black", "text": "μ̂"}},
                {"mark": {"type": "text", "align": "left", "baseline": "alphabetic", "dx": 19, "dy": 15, "fontSize": 14, "color": "black", "text": "mean"}},
                {"mark": {"type": "text", "align": "left", "baseline": "alphabetic", "dx": 66, "dy": 9, "fontSize": 23, "color": "black", "text": "="}},
                {"mark": {"type": "text", "align": "left", "baseline": "alphabetic", "dx": 85, "dy": 9, "fontSize": 24, "color": "black"},
                 "encoding": {"text": {"field": "mean", "type": "quantitative", "format": ".2f"}}}
              ],
              "encoding": {
                "x": {"field": "lx", "type": "quantitative", "scale": {"domain": [0.4, 3.6], "nice": false, "zero": false}, "axis": null},
                "y": {"field": "mean", "type": "quantitative", "scale": {"domain": [10, 83.33], "nice": false, "zero": false}}
              }
            },
            {
              "data": {"values": [{"tag": "B"}]},
              "mark": {"type": "text", "fontSize": 26, "fontWeight": "bold", "color": "black", "baseline": "middle", "align": "center"},
              "encoding": {
                "x": {"datum": 3.35, "type": "quantitative", "scale": {"domain": [0.4, 3.6], "nice": false, "zero": false}, "axis": null},
                "y": {"datum": 92.9, "type": "quantitative", "scale": {"domain": [10, 83.33], "nice": false, "zero": false}},
                "text": {"field": "tag"}
              }
            }
          ]
        },
        {
          "width": 1108, "height": 171,
          "resolve": {"axis": {"x": "independent"}},
          "layer": [
            {
              "data": {"name": "minor"},
              "mark": {"type": "rule", "stroke": "#EBEBEB", "strokeWidth": 1.2},
              "encoding": {
                "y": {"field": "g", "type": "quantitative", "scale": {"domain": [10, 83.33], "nice": false, "zero": false},
                      "axis": {"orient": "left", "values": [20, 40, 60, 80], "grid": true, "gridColor": "#EBEBEB", "gridWidth": 1.2, "ticks": true, "tickSize": 5, "tickColor": "#333333", "domain": false, "labelFontSize": 16, "labelColor": "#4D4D4D", "labelPadding": 6, "title": "Germination energy (%)", "titleFontSize": 22, "titleFontWeight": "bold", "titleColor": "black", "titlePadding": 18}}
              }
            },
            {
              "data": {"name": "pts"},
              "transform": [{"filter": "datum.panel == 'C'"}],
              "mark": {"type": "circle", "size": 150, "opacity": 0.4},
              "encoding": {
                "x": {"field": "xj", "type": "quantitative", "scale": {"domain": [0.4, 2.6], "nice": false, "zero": false},
                      "axis": {"orient": "bottom", "offset": 117, "labels": false, "ticks": false, "domain": false, "grid": false, "title": "loge(BF01) = -1.35, δ̂ posterior difference = -9.71, CI ETI 95% [-18.54, -1.46], r JZS Cauchy = 0.71", "titleAnchor": "end", "titleFontSize": 15, "titleFontWeight": "normal", "titleColor": "black", "titlePadding": 0, "titleLimit": 3000}},
                "y": {"field": "v", "type": "quantitative", "scale": {"domain": [10, 83.33], "nice": false, "zero": false}},
                "color": {"field": "grp", "type": "nominal", "scale": {"domain": ["G0","G1","S1","S2","S3","Dry","Rainy"], "range": ["#1B9E77","#D95F02","#1B9E77","#D95F02","#7570B3","#1B9E77","#D95F02"]}, "legend": null}
              }
            },
            {
              "data": {"name": "vio"},
              "transform": [{"filter": "datum.panel == 'C'"}, {"calculate": "datum.pos - datum.w", "as": "xl"}, {"calculate": "datum.pos + datum.w", "as": "xr"}],
              "mark": {"type": "area", "orient": "horizontal", "fill": "white", "fillOpacity": 0, "stroke": "#333333", "strokeWidth": 1.4},
              "encoding": {
                "y": {"field": "y", "type": "quantitative", "scale": {"domain": [10, 83.33], "nice": false, "zero": false}},
                "x": {"field": "xl", "type": "quantitative", "stack": null, "scale": {"domain": [0.4, 2.6], "nice": false, "zero": false},
                      "axis": {"orient": "bottom", "values": [1, 2], "labelExpr": "datum.value == 1 ? ['Dry', '(n = 23)'] : ['Rainy', '(n = 24)']", "grid": true, "gridColor": "#EBEBEB", "gridWidth": 1.2, "ticks": true, "tickSize": 4, "tickColor": "#333333", "domain": false, "labelFontSize": 16, "labelColor": "#4D4D4D", "labelLineHeight": 23, "labelPadding": 10, "labelFlush": false, "labelOverlap": false, "title": "Season", "titleFontSize": 23, "titleFontWeight": "bold", "titleColor": "black", "titlePadding": 11}},
                "x2": {"field": "xr"},
                "detail": {"field": "grp"}
              }
            },
            {
              "data": {"name": "box"},
              "transform": [{"filter": "datum.panel == 'C'"}, {"calculate": "datum.pos - 0.15", "as": "b1"}, {"calculate": "datum.pos + 0.15", "as": "b2"}],
              "mark": {"type": "rect", "fill": "white", "fillOpacity": 0, "stroke": "#4D4D4D", "strokeWidth": 1.3},
              "encoding": {
                "x": {"field": "b1", "type": "quantitative", "scale": {"domain": [0.4, 2.6], "nice": false, "zero": false}, "axis": null},
                "x2": {"field": "b2"},
                "y": {"field": "q1", "type": "quantitative", "scale": {"domain": [10, 83.33], "nice": false, "zero": false}},
                "y2": {"field": "q3"}
              }
            },
            {
              "data": {"name": "box"},
              "transform": [{"filter": "datum.panel == 'C'"}],
              "mark": {"type": "rule", "stroke": "#4D4D4D", "strokeWidth": 1.3},
              "encoding": {
                "x": {"field": "pos", "type": "quantitative", "scale": {"domain": [0.4, 2.6], "nice": false, "zero": false}, "axis": null},
                "y": {"field": "lo", "type": "quantitative", "scale": {"domain": [10, 83.33], "nice": false, "zero": false}},
                "y2": {"field": "q1"}
              }
            },
            {
              "data": {"name": "box"},
              "transform": [{"filter": "datum.panel == 'C'"}],
              "mark": {"type": "rule", "stroke": "#4D4D4D", "strokeWidth": 1.3},
              "encoding": {
                "x": {"field": "pos", "type": "quantitative", "scale": {"domain": [0.4, 2.6], "nice": false, "zero": false}, "axis": null},
                "y": {"field": "q3", "type": "quantitative", "scale": {"domain": [10, 83.33], "nice": false, "zero": false}},
                "y2": {"field": "hi"}
              }
            },
            {
              "data": {"name": "box"},
              "transform": [{"filter": "datum.panel == 'C'"}, {"calculate": "datum.pos - 0.15", "as": "b1"}, {"calculate": "datum.pos + 0.15", "as": "b2"}],
              "mark": {"type": "rule", "stroke": "#4D4D4D", "strokeWidth": 2.6},
              "encoding": {
                "x": {"field": "b1", "type": "quantitative", "scale": {"domain": [0.4, 2.6], "nice": false, "zero": false}, "axis": null},
                "x2": {"field": "b2"},
                "y": {"field": "med", "type": "quantitative", "scale": {"domain": [10, 83.33], "nice": false, "zero": false}}
              }
            },
            {
              "data": {"name": "box"},
              "transform": [{"filter": "datum.panel == 'C'"}],
              "mark": {"type": "circle", "size": 700, "color": "#8B0000", "opacity": 1},
              "encoding": {
                "x": {"field": "pos", "type": "quantitative", "scale": {"domain": [0.4, 2.6], "nice": false, "zero": false},
                      "axis": {"orient": "top", "labels": false, "ticks": false, "domain": false, "grid": false, "title": "t Welch(39.88) = -2.55, p = 0.01, ĝ Hedges = -0.73, CI95% [-1.31, -0.14], n obs = 47", "titleAnchor": "start", "titleFontSize": 23, "titleFontWeight": "normal", "titleColor": "black", "titlePadding": 27, "titleLimit": 3000}},
                "y": {"field": "mean", "type": "quantitative", "scale": {"domain": [10, 83.33], "nice": false, "zero": false}}
              }
            },
            {
              "data": {"name": "box"},
              "transform": [{"filter": "datum.panel == 'C'"}, {"calculate": "datum.pos + 0.245", "as": "lx"}],
              "mark": {"type": "rule", "stroke": "black", "strokeWidth": 1.4, "strokeDash": [7, 3, 2, 3]},
              "encoding": {
                "x": {"field": "pos", "type": "quantitative", "scale": {"domain": [0.4, 2.6], "nice": false, "zero": false}, "axis": null},
                "x2": {"field": "lx"},
                "y": {"field": "mean", "type": "quantitative", "scale": {"domain": [10, 83.33], "nice": false, "zero": false}}
              }
            },
            {
              "data": {"name": "box"},
              "transform": [{"filter": "datum.panel == 'C'"}, {"calculate": "datum.pos + 0.245", "as": "lx"}],
              "layer": [
                {"mark": {"type": "rect", "fill": "white", "stroke": "black", "strokeWidth": 1.3, "cornerRadius": 4, "x2Offset": 157, "yOffset": -25, "y2Offset": 25},
                 "encoding": {"x2": {"field": "lx"}, "y2": {"field": "mean"}}},
                {"mark": {"type": "text", "align": "left", "baseline": "alphabetic", "dx": 7, "dy": 9, "fontSize": 23, "color": "black", "text": "μ̂"}},
                {"mark": {"type": "text", "align": "left", "baseline": "alphabetic", "dx": 19, "dy": 15, "fontSize": 14, "color": "black", "text": "mean"}},
                {"mark": {"type": "text", "align": "left", "baseline": "alphabetic", "dx": 66, "dy": 9, "fontSize": 23, "color": "black", "text": "="}},
                {"mark": {"type": "text", "align": "left", "baseline": "alphabetic", "dx": 85, "dy": 9, "fontSize": 24, "color": "black"},
                 "encoding": {"text": {"field": "mean", "type": "quantitative", "format": ".2f"}}}
              ],
              "encoding": {
                "x": {"field": "lx", "type": "quantitative", "scale": {"domain": [0.4, 2.6], "nice": false, "zero": false}, "axis": null},
                "y": {"field": "mean", "type": "quantitative", "scale": {"domain": [10, 83.33], "nice": false, "zero": false}}
              }
            },
            {
              "data": {"values": [{"tag": "C"}]},
              "mark": {"type": "text", "fontSize": 26, "fontWeight": "bold", "color": "black", "baseline": "middle", "align": "center"},
              "encoding": {
                "x": {"datum": 2.436, "type": "quantitative", "scale": {"domain": [0.4, 2.6], "nice": false, "zero": false}, "axis": null},
                "y": {"datum": 83.33, "type": "quantitative", "scale": {"domain": [10, 83.33], "nice": false, "zero": false}},
                "text": {"field": "tag"}
              }
            }
          ]
        }
      ]
    }
  ]
}
